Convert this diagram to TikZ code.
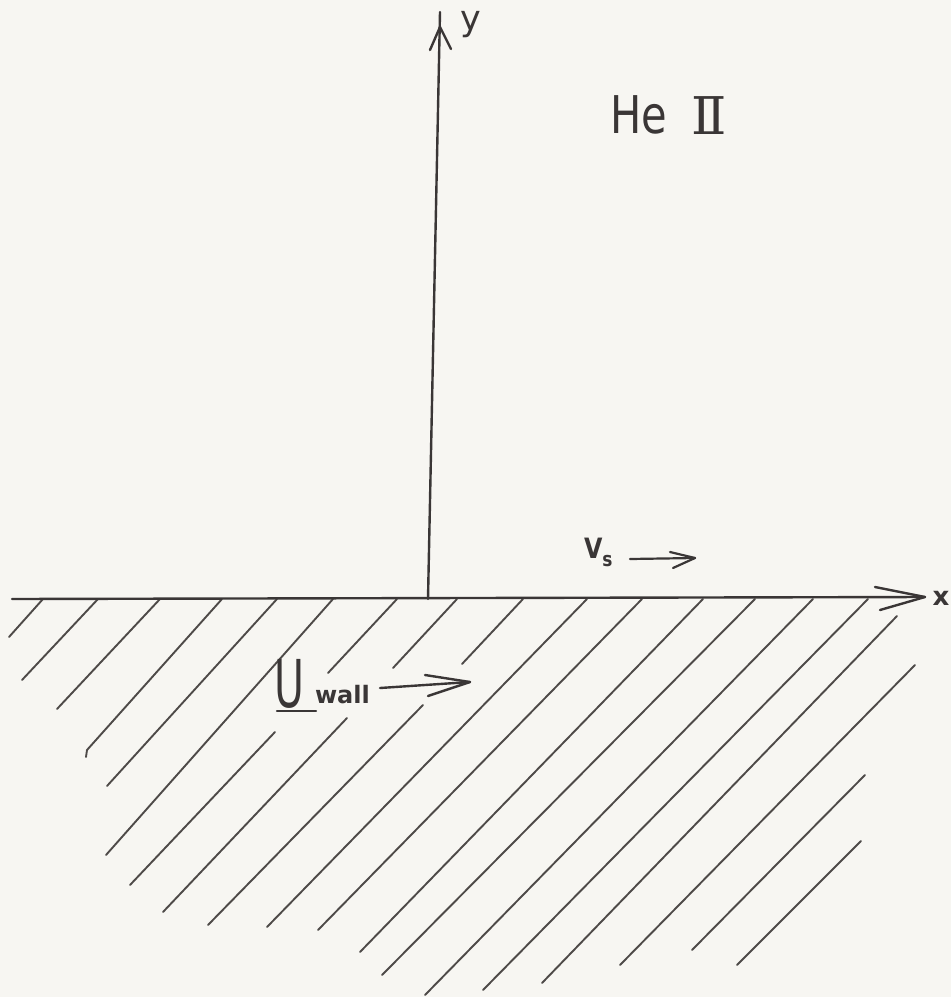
\documentclass[tikz,border=0pt]{standalone}
\usepackage{fontspec}
\setmainfont{DejaVu Sans}
\newfontfamily\romfont{DejaVu Serif}
\definecolor{paper}{HTML}{F7F6F2}
\definecolor{inkc}{HTML}{3A3636}
\definecolor{hatchc}{HTML}{4E4A48}
\begin{document}
\begin{tikzpicture}[x=1pt,y=-1pt,
  ink/.style={draw=inkc, line width=2.4pt, line cap=round, line join=round},
  thinink/.style={draw=inkc, line width=2.2pt, line cap=round, line join=round},
  hatch/.style={draw=hatchc, line width=1.9pt, line cap=round},
  lbl/.style={text=inkc, inner sep=0pt, outer sep=0pt}]
\fill[paper] (0,0) rectangle (951,997);
\useasboundingbox (0,0) rectangle (951,997);

% hatching of the wall
\foreach \a/\b in {
  {(43,599)}/{(9,637)}, {(98,599)}/{(22,680)}, {(160,599)}/{(57,709)},
  {(222,599)}/{(87,750)}, {(277,599)}/{(107,786)}, {(333,599)}/{(106,855)},
  {(397,599)}/{(328,673)}, {(457,599)}/{(393,668)}, {(523,599)}/{(462,664)},
  {(275,732)}/{(130,885)}, {(347,718)}/{(163,912)}, {(423,705)}/{(208,925)},
  {(587,599)}/{(267,927)}, {(642,599)}/{(318,930)}, {(703,599)}/{(360,952)},
  {(755,599)}/{(382,975)}, {(813,599)}/{(425,995)}, {(868,599)}/{(483,990)},
  {(897,616)}/{(542,983)}, {(915,665)}/{(620,965)}, {(865,775)}/{(692,950)},
  {(861,841)}/{(737,965)}}
  \draw[hatch] \a -- \b;
\draw[hatch] (87,750) -- (86,757);

% axes
\coordinate (xs) at (12,599);
\coordinate (xe) at (925,597);
\coordinate (xb1) at (875,587);
\coordinate (xb2) at (880,610);
\coordinate (ys) at (428,599);
\coordinate (ye) at (440,12);
\coordinate (yt) at (440,27);
\coordinate (yb1) at (430,50);
\coordinate (yb2) at (451,49);
\draw[ink] (xs) -- (xe);
\draw[ink] (xb1) -- (xe) -- (xb2);
\draw[ink] (ys) -- (ye);
\draw[ink] (yb1) -- (yt) -- (yb2);

\node[lbl, anchor=base, font=\fontsize{35}{35}\selectfont] (ylab) at (471,30) {y};
\node[lbl, anchor=base, font=\fontsize{26}{26}\selectfont\bfseries] (xlab) at (941,605) {x};

% He II
\node[lbl, anchor=base west, font=\fontsize{52}{52}\selectfont, xscale=0.8] (he) at (610,133) {He};
\node[lbl, anchor=base west, font=\fontsize{52}{52}\selectfont\romfont] (heii) at (691,134) {Ⅱ};

% v_s arrow
\node[lbl, anchor=base west, font=\fontsize{28}{28}\selectfont\bfseries, xscale=0.85] (vs) at (584,558)
  {V\raisebox{-8pt}{\fontsize{20}{20}\selectfont\bfseries s}};
\coordinate (vs1) at (630,559);
\coordinate (vs2) at (695,558);
\coordinate (vsb1) at (670,552);
\coordinate (vsb2) at (673,568);
\draw[thinink] (vs1) -- (vs2);
\draw[thinink] (vsb1) -- (vs2) -- (vsb2);

% U wall arrow
\node[lbl, anchor=base west, font=\fontsize{66}{66}\selectfont, xscale=0.62] (U) at (274,707) {U};
\coordinate (ul1) at (277,711);
\coordinate (ul2) at (316,711);
\draw[thinink] (ul1) -- (ul2);
\node[lbl, anchor=base west, font=\fontsize{24}{24}\selectfont\bfseries] (wall) at (315,703) {wall};
\coordinate (uw1) at (380,688);
\coordinate (uw2) at (470,682);
\coordinate (uwb1) at (425,675);
\coordinate (uwb2) at (428,696);
\draw[ink] (uw1) -- (uw2);
\draw[ink] (uwb1) -- (uw2) -- (uwb2);
\end{tikzpicture}
\end{document}
